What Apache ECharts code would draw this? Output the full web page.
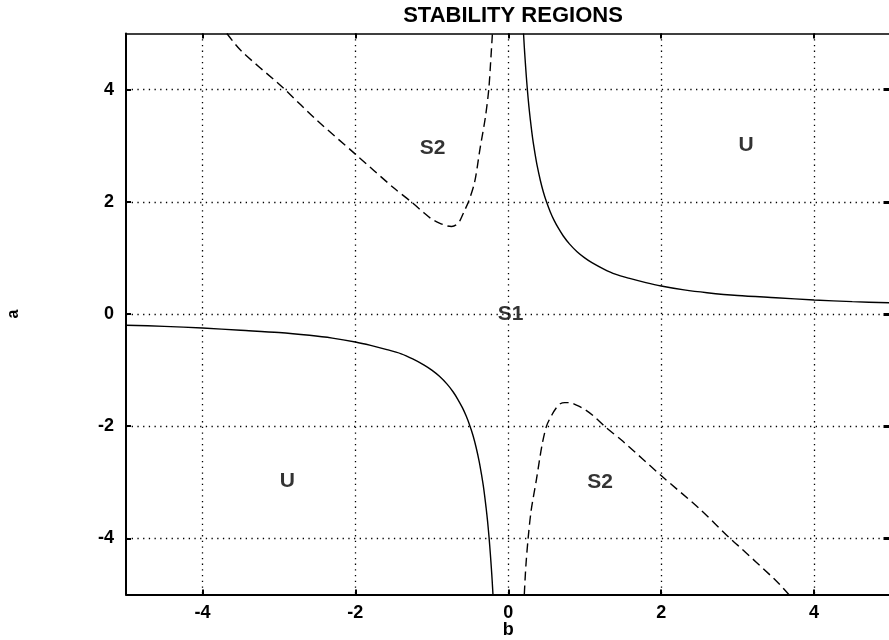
<!DOCTYPE html>
<html><head><meta charset="utf-8">
<script src="https://cdn.jsdelivr.net/npm/echarts@6/dist/echarts.min.js"></script>
<style>html,body{margin:0;padding:0;background:#fff}#c{width:889px;height:640px}</style>
</head><body><div id="c"></div>
<script>
const tickValues = [-4, -2, 0, 2, 4];
const solidRight = [[0.2,5],[0.21,4.76],[0.22,4.55],[0.235,4.26],[0.25,4],[0.27,3.7],[0.29,3.45],[0.32,3.12],[0.35,2.86],[0.38,2.63],[0.42,2.38],[0.46,2.17],[0.5,2],[0.55,1.82],[0.6,1.67],[0.66,1.52],[0.72,1.39],[0.8,1.25],[0.9,1.11],[1,1],[1.1,0.91],[1.25,0.8],[1.4,0.71],[1.6,0.63],[1.8,0.56],[2,0.5],[2.3,0.43],[2.6,0.38],[3,0.33],[3.5,0.29],[4,0.25],[4.5,0.22],[5,0.2]];
const solidLeft = [[-5,-0.2],[-4.5,-0.22],[-4,-0.25],[-3.5,-0.29],[-3,-0.33],[-2.6,-0.38],[-2.3,-0.43],[-2,-0.5],[-1.8,-0.56],[-1.6,-0.63],[-1.4,-0.71],[-1.25,-0.8],[-1.1,-0.91],[-1,-1],[-0.9,-1.11],[-0.8,-1.25],[-0.72,-1.39],[-0.66,-1.52],[-0.6,-1.67],[-0.55,-1.82],[-0.5,-2],[-0.46,-2.17],[-0.42,-2.38],[-0.38,-2.63],[-0.35,-2.86],[-0.32,-3.12],[-0.29,-3.45],[-0.27,-3.7],[-0.25,-4],[-0.235,-4.26],[-0.22,-4.55],[-0.21,-4.76],[-0.2,-5]];
const dashedUpper = [[-3.68,5],[-3.5,4.7],[-3.0,4.1],[-2.92,4.0],[-2.5,3.45],[-2.0,2.85],[-1.5,2.25],[-1.27,2.0],[-1.1,1.8],[-1.0,1.69],[-0.9,1.62],[-0.8,1.57],[-0.74,1.56],[-0.68,1.59],[-0.63,1.67],[-0.58,1.82],[-0.52,2.0],[-0.44,2.35],[-0.37,2.94],[-0.3,3.5],[-0.255,4.0],[-0.23,4.5],[-0.207,5.0]];
const dashedLower = [[0.21,-5],[0.23,-4.5],[0.26,-4.0],[0.3,-3.5],[0.37,-2.94],[0.44,-2.35],[0.5,-2.0],[0.57,-1.8],[0.63,-1.67],[0.68,-1.6],[0.74,-1.58],[0.8,-1.58],[0.9,-1.63],[1.0,-1.7],[1.1,-1.8],[1.26,-2.0],[1.5,-2.27],[2.0,-2.88],[2.5,-3.47],[2.9,-4.0],[3.0,-4.12],[3.5,-4.75],[3.67,-5]];
const regionLabels = ['S2', 'U', 'S1', 'U', 'S2'];
const regionPositions = [[-0.99,2.96],[3.11,3.0],[0.03,0.0],[-2.89,-2.98],[1.2,-2.99]];

const FONT = 'Liberation Sans';
const chart = echarts.init(document.getElementById('c'));
const gridDot = {show:true, lineStyle:{color:'#000', width:1.3, type:[1.3,4.4]}};
const lineSeries = (data, dashed) => ({
  type:'line', data, xAxisIndex:0, yAxisIndex:0, showSymbol:false, symbol:'none',
  smooth:0.3, clip:true, silent:true,
  lineStyle:{color:'#000', width:1.4, type: dashed ? [9,5] : 'solid'}
});
chart.setOption({
  animation:false,
  backgroundColor:'#fff',
  title:{text:'STABILITY REGIONS', left:508, top:0, textAlign:'center',
    textStyle:{fontFamily:FONT, fontWeight:'bold', fontSize:22, color:'#000'}},
  grid:{left:126, right:-1.5, top:33.5, bottom:45.5, containLabel:false, outerBoundsMode:'none'},
  xAxis:[
    {type:'value', min:-5, max:5, position:'bottom', name:'b', nameLocation:'middle', nameGap:27, nameMoveOverlap:false,
     nameTextStyle:{fontFamily:FONT, fontWeight:'bold', fontSize:18, color:'#000'},
     axisLine:{show:true, onZero:false, lineStyle:{color:'#000', width:2}},
     axisTick:{show:true, inside:true, length:5, customValues:tickValues, lineStyle:{color:'#000', width:2}},
     axisLabel:{customValues:tickValues, margin:10, fontFamily:FONT, fontWeight:'bold', fontSize:18, color:'#000'},
     splitLine:gridDot},
    {type:'value', min:-5, max:5, position:'top',
     axisLine:{show:true, onZero:false, lineStyle:{color:'#000', width:1.5}},
     axisTick:{show:true, inside:true, length:5, customValues:tickValues, lineStyle:{color:'#000', width:2}},
     axisLabel:{show:false}, splitLine:{show:false}}
  ],
  yAxis:[
    {type:'value', min:-5, max:5, position:'left', name:'a', nameLocation:'middle', nameGap:104, nameRotate:90, nameMoveOverlap:false,
     nameTextStyle:{fontFamily:FONT, fontWeight:'bold', fontSize:16, color:'#000'},
     axisLine:{show:true, onZero:false, lineStyle:{color:'#000', width:2}},
     axisTick:{show:true, inside:true, length:5, customValues:tickValues, lineStyle:{color:'#000', width:2}},
     axisLabel:{customValues:tickValues, margin:12, fontFamily:FONT, fontWeight:'bold', fontSize:18, color:'#000'},
     splitLine:gridDot},
    {type:'value', min:-5, max:5, position:'right',
     axisLine:{show:true, onZero:false, lineStyle:{color:'#000', width:2}},
     axisTick:{show:true, inside:true, length:7, customValues:tickValues, lineStyle:{color:'#000', width:3}},
     axisLabel:{show:false}, splitLine:{show:false}}
  ],
  series:[
    lineSeries(solidRight, false),
    lineSeries(solidLeft, false),
    lineSeries(dashedUpper, true),
    lineSeries(dashedLower, true),
    {type:'scatter', symbolSize:0, silent:true,
     data: regionPositions.map((p,i)=>({value:p, name:regionLabels[i]})),
     label:{show:true, position:'inside', formatter:p=>p.name, textBorderWidth:0,
       fontFamily:FONT, fontWeight:'bold', fontSize:21, color:'#000'}}
  ]
});
</script></body></html>
